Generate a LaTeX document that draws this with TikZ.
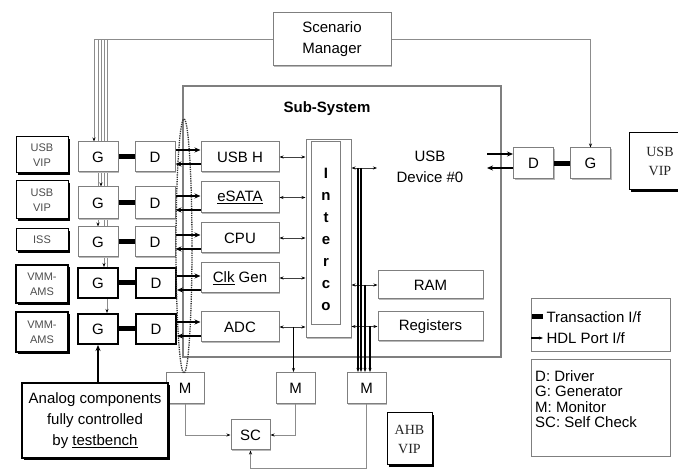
\documentclass[tikz,border=0pt]{standalone}
\usepackage{fontspec}
\setmainfont{Liberation Sans}
\newfontfamily\vipserif{Liberation Serif}
\usepackage{tikz}
\usetikzlibrary{positioning,arrows.meta,shapes.geometric,shadows,backgrounds}
\definecolor{boxgray}{HTML}{7F7F7F}
\definecolor{linegray}{HTML}{8C8C8C}
\definecolor{vipgray}{HTML}{4D4D4D}

\begin{document}
\begin{tikzpicture}[x=1pt,y=-1pt,font=\fontsize{15}{21}\selectfont,node distance=16pt]
  \tikzstyle{blk}=[draw=boxgray,line width=1pt,fill=white,inner sep=0pt,align=center,
    drop shadow={fill=gray!55,opacity=1,shadow xshift=1.2pt,shadow yshift=-1.2pt}]
  \tikzstyle{gbox}=[blk,minimum width=40pt,minimum height=30pt]
  \tikzstyle{gthick}=[gbox,draw=black,line width=2pt]
  \tikzstyle{vip}=[draw=black,line width=1pt,fill=white,align=center,inner sep=0pt,
    minimum width=52pt,text=vipgray,font=\fontsize{11}{15}\selectfont,
    drop shadow={fill=black,opacity=1,shadow xshift=2pt,shadow yshift=-2pt}]
  \tikzstyle{vipthick}=[vip,line width=2pt]
  \tikzstyle{vipr}=[vip,text=black!85,font=\vipserif\fontsize{14}{19}\selectfont]
  \tikzstyle{hdl}=[draw=black,line width=1.6pt,-{Stealth[length=6pt,width=5pt]}]
  \tikzstyle{trans}=[draw=black,line width=5pt]
  \tikzstyle{bus}=[draw=black!75,line width=0.8pt,
    {Stealth[length=4pt,color=black]}-{Stealth[length=4pt,color=black]}]
  \tikzstyle{tap}=[draw=black,line width=1.2pt,-{Stealth[length=4pt]}]
  \tikzstyle{ctl}=[draw=linegray,line width=0.9pt,-{Stealth[length=4pt,color=black]}]
  \useasboundingbox (0,0) rectangle (678,470);

  % sub-system frame
  \node[draw=boxgray,line width=1.5pt,minimum width=318pt,minimum height=271pt,inner sep=0pt]
    (subsys) at (342,221.5) {};
  \node[font=\fontsize{15}{21}\selectfont\bfseries] (subsyslbl) at (327,109) {Sub-System};

  \node[blk,minimum width=118pt,minimum height=53pt] (scen) at (332,39.5) {Scenario\\Manager};

  % verification components (left)
  \node[vip,minimum height=36pt] (vip1) at (42,155) {USB\\VIP};
  \node[vip,minimum height=38pt] (vip2) at (42,200) {USB\\VIP};
  \node[vip,minimum height=22pt] (iss) at (42,240) {ISS};
  \node[vipthick,minimum height=38pt] (vmm1) at (42,284) {VMM-\\AMS};
  \node[vipthick,minimum height=40pt] (vmm2) at (42,332) {VMM-\\AMS};

  \node[gbox] (g1) at (98,157) {G};
  \node[gbox,right=of g1] (d1) {D};
  \node[gbox,minimum height=32pt] (g2) at (98,203) {G};
  \node[gbox,minimum height=32pt,right=of g2] (d2) {D};
  \node[gbox] (g3) at (98,242) {G};
  \node[gbox,right=of g3] (d3) {D};
  \node[gthick] (g4) at (98,283) {G};
  \node[gthick,right=of g4] (d4) {D};
  \node[gthick] (g5) at (98,329) {G};
  \node[gthick,right=of g5] (d5) {D};

  % sub-system blocks
  \node[blk,minimum width=78pt,minimum height=30pt] (usbh) at (240,157) {USB H};
  \node[blk,minimum width=78pt,minimum height=31pt] (esata) at (240,197.5) {\underline{eSATA}};
  \node[blk,minimum width=78pt,minimum height=30pt] (cpu) at (240,238) {CPU};
  \node[blk,minimum width=78pt,minimum height=30pt] (clk) at (240,278) {\underline{Clk} Gen};
  \node[blk,minimum width=78pt,minimum height=30pt] (adc) at (240,327) {ADC};

  \node[blk,minimum width=45pt,minimum height=198pt] (interco) at (328.5,239) {};
  \node[draw=boxgray,line width=1pt,minimum width=29pt,minimum height=183pt,inner sep=0pt]
    (intercoin) at (325.5,233.5) {};
  \node[font=\fontsize{15}{22}\selectfont\bfseries,align=center] (intercolbl) at (326,239)
    {I\\n\\t\\e\\r\\c\\o};

  \node[align=center] (usbdev) at (430,167) {USB\\Device \#0};
  \node[blk,minimum width=105pt,minimum height=28pt] (ram) at (430.5,285) {RAM};
  \node[blk,minimum width=105pt,minimum height=29pt] (regs) at (430.5,326.5) {Registers};

  % monitors / checker
  \node[blk,minimum width=38pt,minimum height=31pt] (mleft) at (185,388) {M};
  \node[blk,minimum width=39pt,minimum height=31pt] (mmid) at (295.5,388) {M};
  \node[blk,minimum width=39pt,minimum height=31pt] (mright) at (366.5,388) {M};
  \node[blk,minimum width=39pt,minimum height=30pt] (sc) at (250.5,435) {SC};

  \node[ellipse,draw=black!80,densely dotted,line width=1.3pt,minimum width=16pt,
    minimum height=254pt,inner sep=0pt] (probe) at (184,246) {};

  \node[draw=black,line width=1.5pt,fill=white,align=center,minimum width=146pt,
    minimum height=75pt,inner sep=0pt,
    drop shadow={fill=black,opacity=1,shadow xshift=2pt,shadow yshift=-2pt}]
    (analog) at (95,420.5) {Analog components\\fully controlled\\by \underline{testbench}};

  \node[vipr,minimum width=45pt,minimum height=52pt] (ahb) at (409.5,439) {AHB\\VIP};

  % right side
  \node[gbox,minimum height=31pt] (d6) at (533.5,163.5) {D};
  \node[gbox,minimum height=31pt,right=of d6] (g6) {G};
  \node[vipr,minimum width=62pt,minimum height=57pt] (vip3) at (660,161.5) {USB\\VIP};

  % legend
  \node[draw=boxgray,line width=1pt,minimum width=139pt,minimum height=53pt] (legif) at (600.5,325.5) {};
  \node[anchor=west] (ltrans) at (543,317) {Transaction I/f};
  \node[anchor=west] (lhdl) at (543,338) {HDL Port I/f};
  \draw[trans] (ltrans.west) -- ++(-11,0);
  \draw[hdl,line width=1.3pt,-{Stealth[length=4pt]}] ([xshift=-12pt]lhdl.west) -- (lhdl.west);
  \node[draw=boxgray,line width=1pt,minimum width=139pt,minimum height=97pt] (legkey) at (600.5,408.5) {};
  \node[anchor=north west,align=left,inner sep=0pt,font=\fontsize{15}{15.5}\selectfont]
    (keytxt) at (535,370) {D: Driver\\G: Generator\\M: Monitor\\SC: Self Check};

  % scenario control lines
  \begin{scope}[on background layer]
    \foreach \g/\dx in {g1/-4,g3/0,g2/3,g4/6,g5/9}
      \draw[ctl] (scen.west) -| ([xshift=\dx pt]\g.north);
  \end{scope}
  \draw[ctl] (scen.east) -| (g6.north);

  % transaction and port interfaces
  \foreach \i in {1,...,5}
    \draw[trans] (g\i.east) -- (d\i.west);
  \draw[trans] (d6.east) -- (g6.west);
  \foreach \d/\b in {d1/usbh,d2/esata,d3/cpu,d4/clk,d5/adc} {
    \draw[hdl] ([yshift=7pt]\d.east) -- ([yshift=7pt]\d.east -| \b.west);
    \draw[hdl] ([yshift=-7pt]\d.east -| \b.west) -- ([yshift=-7pt]\d.east);
  }
  \coordinate (usbport) at (487,161);
  \draw[hdl] ([yshift=7pt]usbport) -- ([yshift=7pt]usbport -| d6.west);
  \draw[hdl] ([yshift=-7pt]usbport -| d6.west) -- ([yshift=-7pt]usbport);

  % interconnect
  \foreach \b in {usbh,esata,cpu,clk,adc}
    \draw[bus] (\b.east) -- (\b.east -| interco.west);
  \coordinate (devport) at (377,168);
  \draw[bus] (devport -| interco.east) -- (devport);
  \draw[bus] (ram.west -| interco.east) -- (ram.west);
  \draw[bus] (regs.west -| interco.east) -- (regs.west);

  % monitor taps
  \foreach \dx/\src in {-8.5/devport,-5.5/devport,-1.5/ram.west,3.5/regs.west}
    \draw[tap] ([xshift=\dx pt]mright.north |- \src) -- ([xshift=\dx pt]mright.north);
  \draw[tap,line width=1.5pt] ([xshift=-2pt]adc.east -| mmid.north) -- ([xshift=-2pt]mmid.north);

  \draw[ctl] (mleft.south) |- (sc.west);
  \draw[ctl] (mmid.south) |- (sc.east);
  \coordinate (scbus) at (0,468);
  \draw[ctl] (mright.south) |- (sc.south |- scbus) -- (sc.south);

  \draw[hdl] (analog.north -| g5.south) -- (g5.south);
\end{tikzpicture}
\end{document}
